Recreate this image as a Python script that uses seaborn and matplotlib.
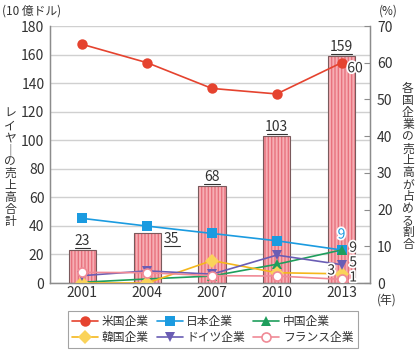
import matplotlib
matplotlib.use("Agg")
import matplotlib.pyplot as plt
import matplotlib.patheffects as pe
import numpy as np
import seaborn as sns

# data
years = ["2001", "2004", "2007", "2010", "2013"]
totals = [23, 35, 68, 103, 159]          # 10 億ドル
us = [65, 60, 53, 51.5, 60]
japan = [17.6, 15.5, 13.5, 11.5, 9]
china = [0.2, 1.1, 1.9, 5.1, 9]
korea = [0, 0, 6.1, 2.8, 2.5]
germany = [2.0, 3.3, 2.4, 7.6, 5]
france = [2.9, 2.8, 2.0, 1.9, 1]
end_labels = ["60", "9", "9", "3", "5", "1"]

sns.set_style("white")
plt.rcParams["font.family"] = ["Noto Sans CJK JP", "DejaVu Sans"]

TXT = "#333333"
GRAY = "#8c8c8c"

fig = plt.figure(figsize=(4.18, 3.53), dpi=100)
ax = fig.add_axes([0.1196, 0.1983, 0.7656, 0.728])

# bars: striped pink fill, then dark outline on top
sns.barplot(x=years, y=totals, ax=ax, color="#f7aeb4", width=0.42,
            saturation=1, zorder=2)
for p in ax.patches:
    p.set_hatch("|||||")
    p.set_edgecolor("#e8727e")
    p.set_linewidth(0)
sns.barplot(x=years, y=totals, ax=ax, fill=False, width=0.42,
            color="#7a5a5c", linewidth=0.8, zorder=3)

ax.set_ylim(0, 180)
ax.set_xlim(-0.5, 4.44)
ax.set_yticks(np.arange(0, 181, 20))
ax.grid(axis="y", color="#d0d0d0", linewidth=1, zorder=0)
ax.set_axisbelow(True)
ax.set_xlabel("")
ax.set_ylabel("")
ax.tick_params(axis="y", length=0, labelsize=10, labelcolor=TXT, pad=4)
ax.tick_params(axis="x", length=0, labelsize=10, labelcolor=TXT, pad=2)
ax.set_xticks(np.arange(0.5, 4, 1), minor=True)
ax.tick_params(axis="x", which="minor", direction="in", length=4, color=GRAY)
for s in ["left", "bottom", "right"]:
    ax.spines[s].set_color(GRAY)
    ax.spines[s].set_linewidth(1)
ax.spines["top"].set_visible(False)

# underlined bar totals
for i, v in enumerate(totals):
    if i == 1:
        tx, ty = i + 0.38, v - 4
    else:
        tx, ty = i, v + 6.5
    ax.text(tx, ty, str(v), ha="center", va="center", fontsize=10, color=TXT, zorder=5)
    w = 0.1 + 0.07 * len(str(v))
    ax.plot([tx - w / 2, tx + w / 2], [ty - 5, ty - 5], color=TXT,
            linewidth=0.8, zorder=5)

# share lines on right axis
ax2 = ax.twinx()
ax2.set_position(ax.get_position())
x = np.arange(len(years))
series = [
    ("米国企業", us, "#e5432f", "o", "#e5432f", 7.5),
    ("日本企業", japan, "#1b9be0", "s", "#1b9be0", 7),
    ("中国企業", china, "#1f9e5c", "^", "#1f9e5c", 7.5),
    ("韓国企業", korea, "#f5b71c", "D", "#fad35a", 7),
    ("ドイツ企業", germany, "#6a5db4", "v", "#6a5db4", 7.5),
    ("フランス企業", france, "#f08a96", "o", "white", 6.5),
]
handles = {}
for name, vals, col, mk, fc, ms in series:
    sns.lineplot(x=x, y=vals, ax=ax2, color=col, linewidth=1.2, marker=mk,
                 markersize=ms, markerfacecolor=fc, markeredgecolor=col,
                 markeredgewidth=1.2 if fc == "white" else 0, label=name)
    handles[name] = ax2.lines[-1]

ax2.set_ylim(0, 70)
ax2.set_yticks(np.arange(0, 71, 10))
ax2.set_ylabel("")
ax2.tick_params(axis="y", direction="in", length=4, color=GRAY, labelsize=10,
                labelcolor=TXT, pad=5)
for s in ["left", "bottom", "right"]:
    ax2.spines[s].set_color(GRAY)
ax2.spines["top"].set_visible(False)
ax2.get_legend().remove()

stroke = [pe.withStroke(linewidth=2.5, foreground="white")]
last = len(years) - 1
ax2.text(last + 0.09, us[-1] - 1.5, end_labels[0], fontsize=10, color=TXT,
         va="center", ha="left", path_effects=stroke)
ax2.text(last, japan[-1] + 4.2, end_labels[1], fontsize=10, color="#1b9be0",
         va="center", ha="center", path_effects=stroke)
ax2.text(last + 0.12, china[-1] + 0.6, end_labels[2], fontsize=10, color=TXT,
         va="center", ha="left", path_effects=stroke)
ax2.text(last - 0.1, korea[-1] + 0.9, end_labels[3], fontsize=10, color=TXT,
         va="center", ha="right", path_effects=stroke)
ax2.text(last + 0.12, germany[-1] + 0.6, end_labels[4], fontsize=10, color=TXT,
         va="center", ha="left", path_effects=stroke)
ax2.text(last + 0.12, france[-1] + 0.5, end_labels[5], fontsize=10, color=TXT,
         va="center", ha="left", path_effects=stroke)

# axis titles
fig.text(0.005, 0.97, "(10 億ドル)", fontsize=8.5, color=TXT, ha="left", va="center")
fig.text(0.929, 0.97, "(%)", fontsize=8.5, color=TXT, ha="center", va="center")
fig.text(0.926, 0.150, "(年)", fontsize=8.5, color=TXT, ha="center", va="center")
left_lab = "レイヤ｜の売上高合計"
right_lab = "各国企業の売上高が占める割合"
fig.text(0.024, 0.525, "\n".join(left_lab), fontsize=8.5, color=TXT,
         ha="center", va="center", linespacing=0.9)
fig.text(0.976, 0.527, "\n".join(right_lab), fontsize=8.5, color=TXT,
         ha="center", va="center", linespacing=0.9)

order = ["米国企業", "韓国企業", "日本企業", "ドイツ企業", "中国企業", "フランス企業"]
leg = fig.legend([handles[n] for n in order], order, loc="center",
                 bbox_to_anchor=(0.509, 0.067), ncol=3, fontsize=8.5,
                 frameon=True, fancybox=False, edgecolor=GRAY,
                 handlelength=2.2, columnspacing=0.7, handletextpad=0.3,
                 borderpad=0.35, labelspacing=0.25)
leg.get_frame().set_linewidth(0.8)
for t in leg.get_texts():
    t.set_color(TXT)

fig.savefig("out.png", dpi=100)
